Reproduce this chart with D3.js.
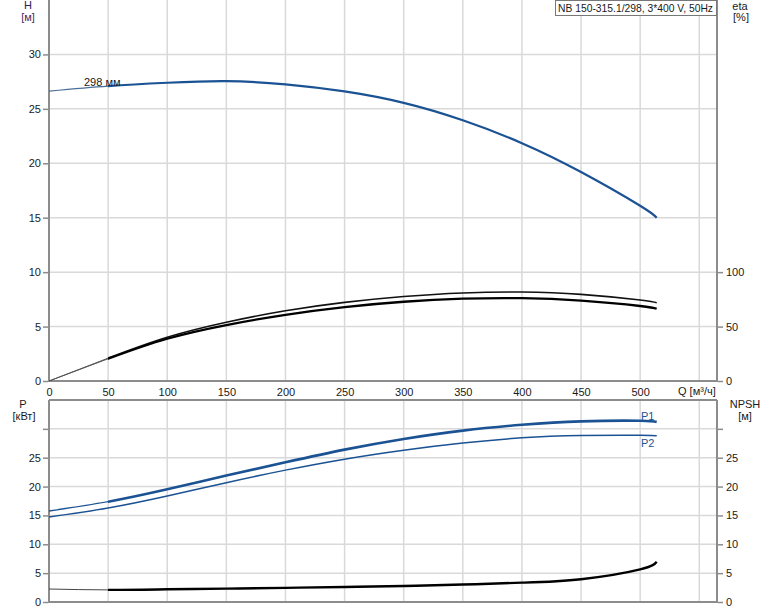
<!DOCTYPE html>
<html><head><meta charset="utf-8">
<script src="https://cdn.jsdelivr.net/npm/d3@7"></script>
<style>body{margin:0;background:#fff}svg{display:block;font-family:"Liberation Sans",Arial,sans-serif}</style>
</head><body>
<svg id="c" width="774" height="611"></svg>
<script>
// ---- data ----
const flow     = [0, 50, 100, 150, 200, 250, 300, 350, 400, 450, 500, 514];
const head     = [26.63, 27.09, 27.4, 27.55, 27.25, 26.6, 25.55, 23.95, 21.85, 19.2, 16.1, 15.0];
const etaUpper = [0, 21.0, 40.2, 54.0, 64.5, 72.2, 77.6, 80.9, 81.7, 79.6, 74.4, 71.9];
const etaLower = [0, 20.4, 38.8, 51.4, 60.8, 67.9, 72.8, 75.6, 76.1, 73.8, 68.9, 66.4];
const powerP1  = [15.77, 17.38, 19.53, 21.9, 24.2, 26.4, 28.25, 29.7, 30.7, 31.3, 31.4, 31.2];
const powerP2  = [14.73, 16.29, 18.37, 20.68, 22.85, 24.75, 26.3, 27.55, 28.45, 28.85, 28.9, 28.8];
const npsh     = [2.25, 2.1, 2.2, 2.32, 2.45, 2.6, 2.77, 3.02, 3.35, 3.95, 5.65, 6.98];

const qTicks    = [0, 50, 100, 150, 200, 250, 300, 350, 400, 450, 500];
const qGrid     = [50, 100, 150, 200, 250, 300, 350, 400, 450, 500, 550];
const hTicks    = [0, 5, 10, 15, 20, 25, 30];
const etaTicks  = [0, 50, 100];
const pTicks    = [0, 5, 10, 15, 20, 25];
const pGrid     = [5, 10, 15, 20, 25, 30];
const npshTicks = [0, 5, 10, 15, 20, 25];

const title = "NB 150-315.1/298, 3*400 V, 50Hz";
const curveLabel = "298 мм";

// ---- layout ----
const L = 49, R = 717;
const topY0 = 381, topY1 = 0;
const botY0 = 602, botY1 = 400;
const svg = d3.select("#c");
const gridCol = "#d9d9d9", axisCol = "#8c8c8c", txtCol = "#1a1a1a";
const blue = "#1b5293";

const x = d3.scaleLinear().domain([0, 565]).range([L, R]);
const yH = d3.scaleLinear().domain([0, 35]).range([topY0, topY1]);
const yEta = d3.scaleLinear().domain([0, 350]).range([topY0, topY1]);
const yP = d3.scaleLinear().domain([0, 35]).range([botY0, botY1]);
const yN = d3.scaleLinear().domain([0, 35]).range([botY0, botY1]);

// clip paths splitting the thin (0-50) and thick (50+) parts
const defs = svg.append("defs");
defs.append("clipPath").attr("id", "cThin").append("rect")
  .attr("x", 0).attr("y", 0).attr("width", x(50)).attr("height", 611);
defs.append("clipPath").attr("id", "cThick").append("rect")
  .attr("x", x(50)).attr("y", 0).attr("width", 774 - x(50)).attr("height", 611);

// grids
function vgrid(y0, y1) {
  svg.append("g").selectAll("line").data(qGrid).join("line")
    .attr("x1", d => x(d)).attr("x2", d => x(d)).attr("y1", y0).attr("y2", y1)
    .attr("stroke", gridCol).attr("stroke-width", 1.5);
}
vgrid(topY0, topY1); vgrid(botY0, botY1);
svg.append("g").selectAll("line").data(hTicks.filter(d => d > 0)).join("line")
  .attr("x1", L).attr("x2", R).attr("y1", d => yH(d)).attr("y2", d => yH(d))
  .attr("stroke", gridCol).attr("stroke-width", 1.5);
svg.append("g").selectAll("line").data(pGrid).join("line")
  .attr("x1", L).attr("x2", R).attr("y1", d => yP(d)).attr("y2", d => yP(d))
  .attr("stroke", gridCol).attr("stroke-width", 1.5);

// axes frames
function frame(y0, y1) {
  svg.append("line").attr("x1", L).attr("x2", L).attr("y1", y0 + 1).attr("y2", y1).attr("stroke", axisCol).attr("stroke-width", 2);
  svg.append("line").attr("x1", R).attr("x2", R).attr("y1", y0 + 1).attr("y2", y1).attr("stroke", axisCol).attr("stroke-width", 2);
  svg.append("line").attr("x1", L).attr("x2", R).attr("y1", y0).attr("y2", y0).attr("stroke", axisCol).attr("stroke-width", 2);
}
frame(topY0, topY1); frame(botY0, botY1);
svg.append("line").attr("x1", L).attr("x2", R).attr("y1", botY1).attr("y2", botY1).attr("stroke", axisCol).attr("stroke-width", 2);

// axes via d3
const fmt = d3.format("d");
function styleAxis(g) {
  g.select(".domain").remove();
  g.selectAll(".tick line").attr("stroke", axisCol).attr("stroke-width", 1.5);
  g.selectAll(".tick text").attr("fill", txtCol).style("font-size", "11px").style("font-family", '"Liberation Sans",Arial,sans-serif');
}
svg.append("g").attr("transform", `translate(${L - 1},0)`)
  .call(d3.axisLeft(yH).tickValues(hTicks).tickSize(5).tickPadding(2).tickFormat(fmt)).call(styleAxis);
svg.append("g").attr("transform", `translate(${R + 1},0)`)
  .call(d3.axisRight(yEta).tickValues(etaTicks).tickSize(5).tickPadding(3).tickFormat(fmt)).call(styleAxis);
svg.append("g").attr("transform", `translate(${L - 1},0)`)
  .call(d3.axisLeft(yP).tickValues(pGrid.concat([0])).tickSize(5).tickPadding(2)
    .tickFormat(d => pTicks.includes(d) ? fmt(d) : "")).call(styleAxis);
svg.append("g").attr("transform", `translate(${R + 1},0)`)
  .call(d3.axisRight(yN).tickValues(pGrid.concat([0])).tickSize(5).tickPadding(3)
    .tickFormat(d => npshTicks.includes(d) ? fmt(d) : "")).call(styleAxis);
svg.append("g").attr("transform", `translate(0,${topY0 + 1})`)
  .call(d3.axisBottom(x).tickValues(qTicks).tickSize(0).tickPadding(6).tickFormat(fmt)).call(styleAxis);

// axis titles
function txt(s, xx, yy, anchor, col) {
  return svg.append("text").attr("x", xx).attr("y", yy).attr("text-anchor", anchor || "middle")
    .attr("fill", col || txtCol).style("font-size", "11px").text(s);
}
txt("H", 28, 9, "middle", "#2a2350");
txt("[м]", 28, 21, "middle", "#4a2a5a");
txt("eta", 740, 10, "middle", txtCol);
txt("[%]", 741, 21, "middle", txtCol);
txt("P", 23, 408, "middle", txtCol);
txt("[кВт]", 24, 420, "middle", txtCol);
txt("NPSH", 745, 408, "middle", txtCol);
txt("[м]", 745, 420, "middle", txtCol);
txt("Q [м³/ч]", 678, 395, "start", txtCol);

// title box
svg.append("rect").attr("x", 555.5).attr("y", 0.5).attr("width", 161).attr("height", 15)
  .attr("fill", "#fff").attr("stroke", "#777").attr("stroke-width", 1);
txt(title, 558, 12, "start", txtCol).attr("textLength", 155).attr("lengthAdjust", "spacingAndGlyphs");

// curves
function draw(vals, ys, col, wThin, wThick, colThin) {
  const pts = flow.map((q, i) => [q, vals[i]]);
  const line = d3.line().x(d => x(d[0])).y(d => ys(d[1])).curve(d3.curveNatural);
  svg.append("path").datum(pts).attr("d", line).attr("clip-path", "url(#cThin)")
    .attr("fill", "none").attr("stroke", colThin || col).attr("stroke-width", wThin);
  svg.append("path").datum(pts).attr("d", line).attr("clip-path", "url(#cThick)")
    .attr("fill", "none").attr("stroke", col).attr("stroke-width", wThick);
}
draw(head, yH, blue, 1.2, 2.2, "#4a6f9a");
draw(etaUpper, yEta, "#111", 1, 1.6, "#555");
draw(etaLower, yEta, "#000", 1, 2.3, "#555");
draw(powerP1, yP, blue, 1.3, 2.6);
draw(powerP2, yP, blue, 1.3, 1.5);
draw(npsh, yN, "#000", 1, 2.4, "#444");

// curve labels
txt(curveLabel, 84, 86, "start", txtCol);
txt("P1", 641, 420, "start", blue);
txt("P2", 641, 447, "start", blue);
</script>
</body></html>
